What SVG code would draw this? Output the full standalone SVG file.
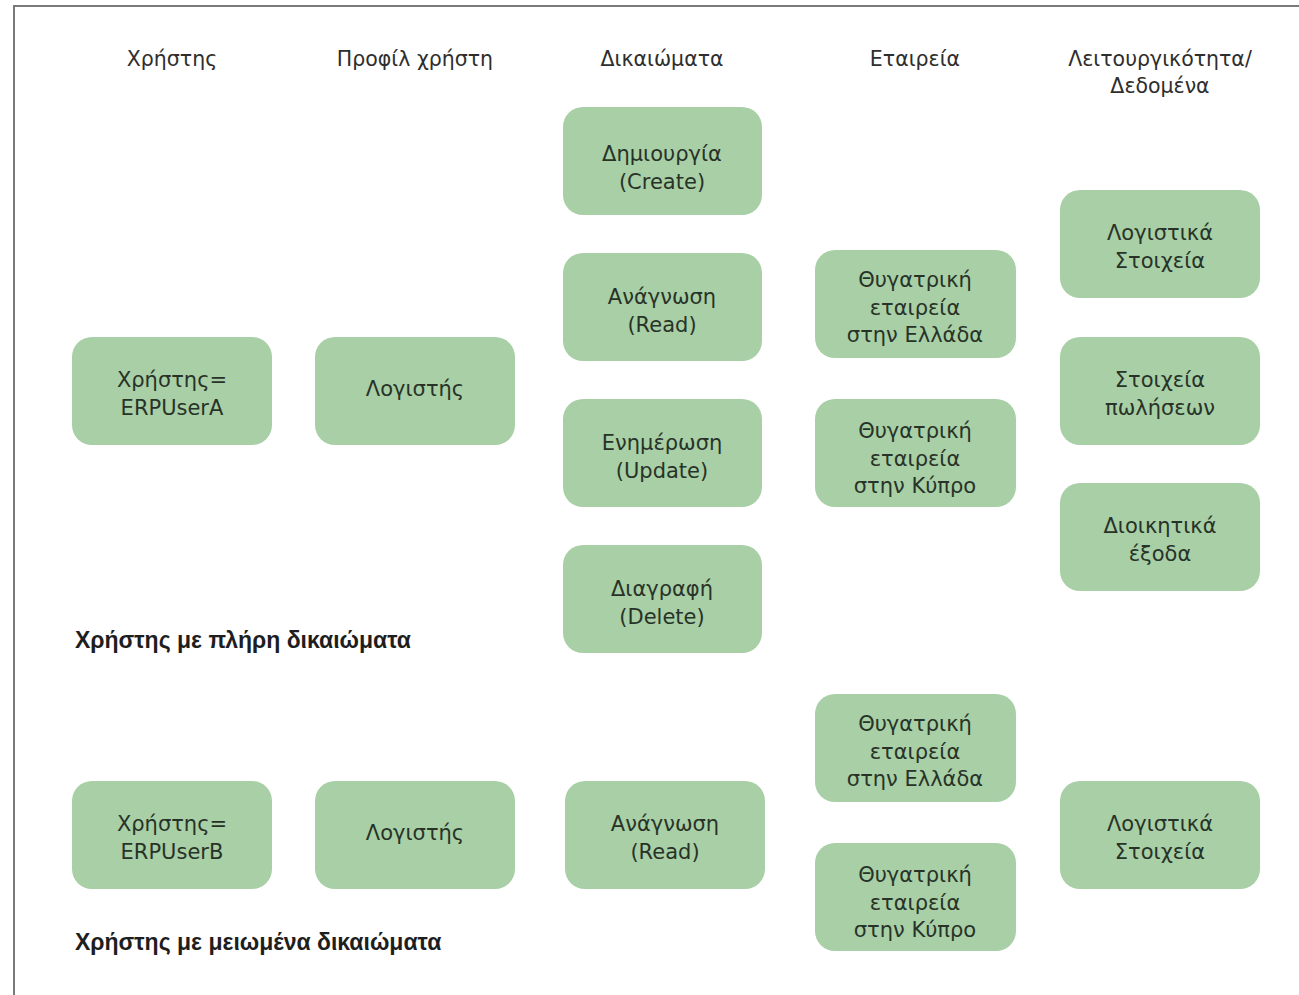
<svg xmlns="http://www.w3.org/2000/svg" width="1299" height="995" viewBox="0 0 1299 995">
  <style>
    .frame { fill: none; stroke: #7a7a7a; stroke-width: 2; }
    .box { fill: #a8cfa6; }
    .lbl { font-family: "DejaVu Sans", "Liberation Sans", sans-serif; font-size: 21px; fill: #283328; text-anchor: middle; }
    .hdr { font-family: "DejaVu Sans", "Liberation Sans", sans-serif; font-size: 20.5px; fill: #2e2e2e; text-anchor: middle; }
    .cap { font-family: "Liberation Sans", Arial, sans-serif; font-size: 23px; font-weight: bold; fill: #1e1e1e; }
  </style>
  <rect width="1299" height="995" fill="#ffffff"/>
  <path class="frame" d="M14,1000 V6 H1305"/>

  <g id="headers">
    <text class="hdr" x="172" y="66">Χρήστης</text>
    <text class="hdr" x="415" y="66">Προφίλ χρήστη</text>
    <text class="hdr" x="662" y="66">Δικαιώματα</text>
    <text class="hdr" x="915" y="66">Εταιρεία</text>
    <text class="hdr" x="1160" y="66">Λειτουργικότητα/</text>
    <text class="hdr" x="1160" y="93">Δεδομένα</text>
  </g>

  <!-- full rights user -->
  <g id="userA"><rect class="box" x="72" y="337" width="200" height="108" rx="20"/>
    <text class="lbl" x="172" y="387">Χρήστης=</text><text class="lbl" x="172" y="415">ERPUserA</text></g>
  <g id="profileA"><rect class="box" x="315" y="337" width="200" height="108" rx="20"/>
    <text class="lbl" x="415" y="396">Λογιστής</text></g>
  <g id="create"><rect class="box" x="563" y="107" width="199" height="108" rx="20"/>
    <text class="lbl" x="662" y="161">Δημιουργία</text><text class="lbl" x="662" y="189">(Create)</text></g>
  <g id="readA"><rect class="box" x="563" y="253" width="199" height="108" rx="20"/>
    <text class="lbl" x="662" y="304">Ανάγνωση</text><text class="lbl" x="662" y="332">(Read)</text></g>
  <g id="update"><rect class="box" x="563" y="399" width="199" height="108" rx="20"/>
    <text class="lbl" x="662" y="450">Ενημέρωση</text><text class="lbl" x="662" y="478">(Update)</text></g>
  <g id="delete"><rect class="box" x="563" y="545" width="199" height="108" rx="20"/>
    <text class="lbl" x="662" y="596">Διαγραφή</text><text class="lbl" x="662" y="624">(Delete)</text></g>
  <g id="greeceA"><rect class="box" x="815" y="250" width="201" height="108" rx="20"/>
    <text class="lbl" x="915" y="287">Θυγατρική</text><text class="lbl" x="915" y="315">εταιρεία</text><text class="lbl" x="915" y="342">στην Ελλάδα</text></g>
  <g id="cyprusA"><rect class="box" x="815" y="399" width="201" height="108" rx="20"/>
    <text class="lbl" x="915" y="438">Θυγατρική</text><text class="lbl" x="915" y="466">εταιρεία</text><text class="lbl" x="915" y="493">στην Κύπρο</text></g>
  <g id="accountingA"><rect class="box" x="1060" y="190" width="200" height="108" rx="20"/>
    <text class="lbl" x="1160" y="240">Λογιστικά</text><text class="lbl" x="1160" y="268">Στοιχεία</text></g>
  <g id="sales"><rect class="box" x="1060" y="337" width="200" height="108" rx="20"/>
    <text class="lbl" x="1160" y="387">Στοιχεία</text><text class="lbl" x="1160" y="415">πωλήσεων</text></g>
  <g id="admin"><rect class="box" x="1060" y="483" width="200" height="108" rx="20"/>
    <text class="lbl" x="1160" y="533">Διοικητικά</text><text class="lbl" x="1160" y="561">έξοδα</text></g>
  <text class="cap" x="75" y="648">Χρήστης με πλήρη δικαιώματα</text>

  <!-- reduced rights user -->
  <g id="userB"><rect class="box" x="72" y="781" width="200" height="108" rx="20"/>
    <text class="lbl" x="172" y="831">Χρήστης=</text><text class="lbl" x="172" y="859">ERPUserB</text></g>
  <g id="profileB"><rect class="box" x="315" y="781" width="200" height="108" rx="20"/>
    <text class="lbl" x="415" y="840">Λογιστής</text></g>
  <g id="readB"><rect class="box" x="565" y="781" width="200" height="108" rx="20"/>
    <text class="lbl" x="665" y="831">Ανάγνωση</text><text class="lbl" x="665" y="859">(Read)</text></g>
  <g id="greeceB"><rect class="box" x="815" y="694" width="201" height="108" rx="20"/>
    <text class="lbl" x="915" y="731">Θυγατρική</text><text class="lbl" x="915" y="759">εταιρεία</text><text class="lbl" x="915" y="786">στην Ελλάδα</text></g>
  <g id="cyprusB"><rect class="box" x="815" y="843" width="201" height="108" rx="20"/>
    <text class="lbl" x="915" y="882">Θυγατρική</text><text class="lbl" x="915" y="910">εταιρεία</text><text class="lbl" x="915" y="937">στην Κύπρο</text></g>
  <g id="accountingB"><rect class="box" x="1060" y="781" width="200" height="108" rx="20"/>
    <text class="lbl" x="1160" y="831">Λογιστικά</text><text class="lbl" x="1160" y="859">Στοιχεία</text></g>
  <text class="cap" x="75" y="950">Χρήστης με μειωμένα δικαιώματα</text>

  <g id="connectors"/>
</svg>
